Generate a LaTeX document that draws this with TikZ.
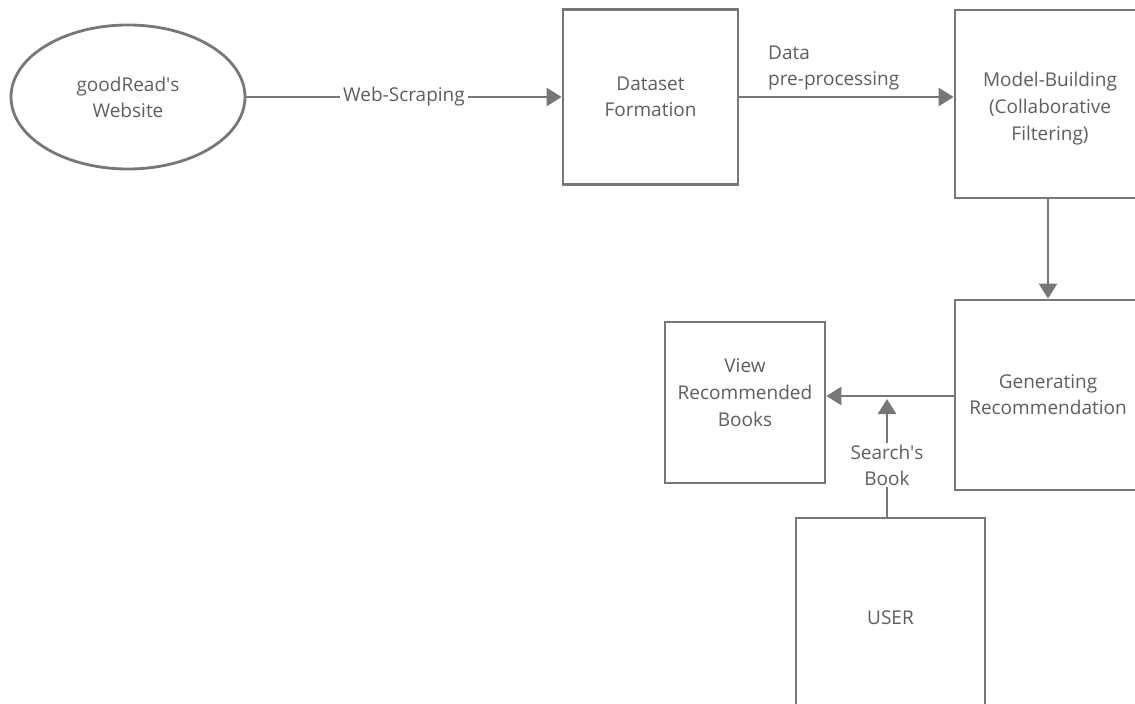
\documentclass[tikz,border=0pt]{standalone}
\usepackage{fontspec}
\setmainfont{Open Sans}
\usetikzlibrary{arrows.meta,shapes.geometric}
\definecolor{linegray}{HTML}{777777}
\definecolor{textgray}{HTML}{5E5E5E}
\tikzset{
  every node/.style={font=\fontsize{19}{26}\selectfont, text=textgray},
  wide/.style={font=\fontsize{19}{27}\selectfont},
  block/.style={draw=linegray, line width=2.8pt, fill=white, align=center, inner sep=0pt},
  oval/.style={ellipse, draw=linegray, line width=2.8pt, align=center, inner sep=0pt,
               minimum width=234pt, minimum height=144pt},
  link/.style={draw=linegray, line width=2.8pt},
  flow/.style={link, -{Triangle[length=15pt,width=18pt]}},
  lbl/.style={fill=white, inner sep=3pt, align=center}
}
\begin{document}
\begin{tikzpicture}[x=1pt,y=-1pt]
  \useasboundingbox (0,0) rectangle (1135,704);
  \clip (0,0) rectangle (1135,704);

  % source website
  \node[oval] (site) at (128,97) {goodRead\textquotesingle s\\Website};

  % processing boxes
  \node[block, minimum width=175pt, minimum height=175pt] (data) at (650.5,97) {Dataset\\Formation};
  \node[block, minimum width=190pt, minimum height=188pt,
        label={[wide, align=center, yshift=-5pt]center:Model-Building\\(Collaborative\\Filtering)}] (model) at (1050,104) {};
  \node[block, minimum width=186pt, minimum height=190pt, text width=186pt] (gen) at (1048,395) {Generating\\Recommendation};
  \node[block, minimum width=160pt, minimum height=161pt,
        label={[wide, align=center, yshift=10pt]center:View\\Recommended\\Books}] (view) at (745,402.5) {};
  \node[block, minimum width=189pt, minimum height=200pt] (user) at (890.5,618) {USER};

  % scraping step
  \draw[flow] (site.east) -- node[lbl] (scrape) {Web-Scraping} (data.west);

  % pre-processing step
  \draw[flow] (data.east) -- (data.east -| model.west);
  \node[anchor=south west, align=left, inner sep=0pt] (prep) at (768,90) {Data\\pre-processing};

  % model to recommendation
  \coordinate (mdrop) at (1048,198);
  \draw[flow] (mdrop) -- (mdrop |- gen.north);

  % recommendation to viewer
  \coordinate (gout) at (955,396);
  \draw[flow] (gout) -- (gout -| view.east);

  % user search
  \node[align=center, inner sep=0pt] (search) at (887,465) {Search\textquotesingle s\\Book};
  \coordinate (stip) at (887,399);
  \draw[flow] ([yshift=1pt]search.north) -- (stip);
  \draw[link] (search.south |- user.north) -- ([yshift=-1pt]search.south);
\end{tikzpicture}
\end{document}
